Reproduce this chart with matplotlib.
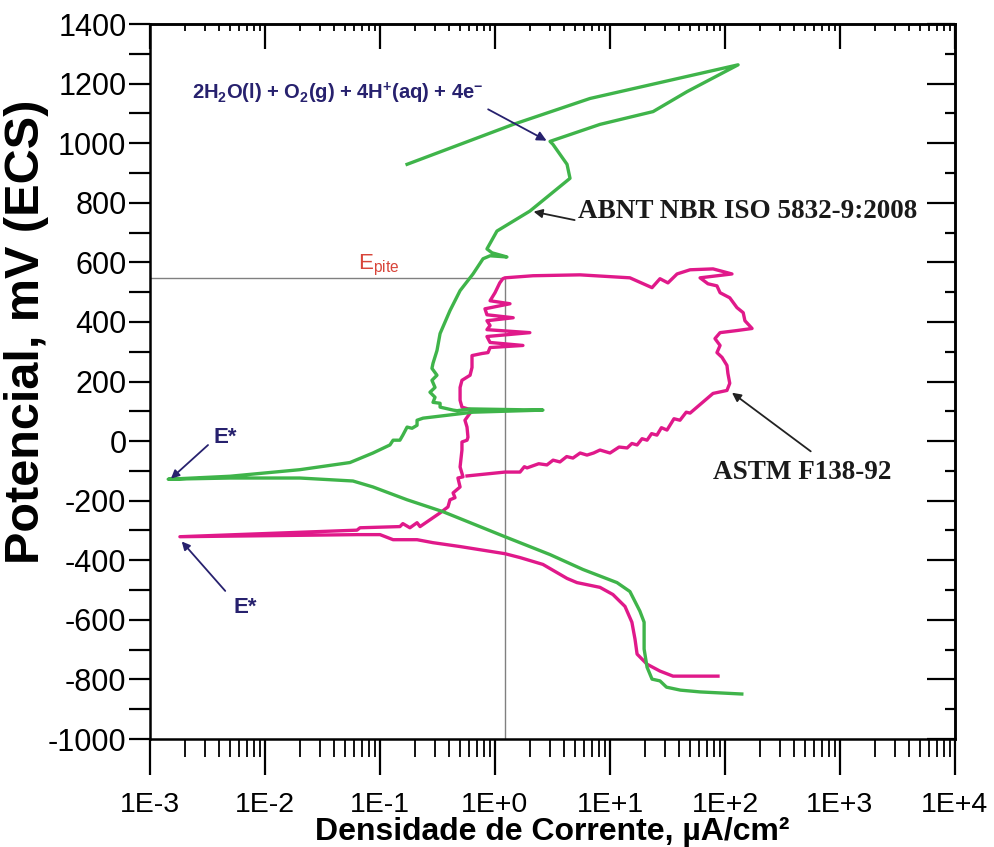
import math
import matplotlib
matplotlib.use("Agg")
import matplotlib.pyplot as plt
from matplotlib.ticker import LogLocator, MultipleLocator, FuncFormatter, NullFormatter

plt.rcParams['font.family'] = ['Liberation Sans', 'DejaVu Sans']
plt.rcParams['axes.unicode_minus'] = False
plt.rcParams['mathtext.fontset'] = 'custom'
plt.rcParams['mathtext.rm'] = 'Liberation Sans'
plt.rcParams['mathtext.bf'] = 'Liberation Sans:bold'

# Cyclic polarisation curve, ABNT NBR ISO 5832-9:2008 (current density uA/cm2, potential mV)
iso_i = [140, 61, 41, 31, 27.2, 23.2, 21.0, 19.8, 19.8, 18.2, 14.9, 11.5, 5.82, 3.01, 1.22,
         0.353, 0.172, 0.0869, 0.0582, 0.0201, 0.00497, 0.00144,
         0.00497, 0.0201, 0.0548, 0.0869, 0.122, 0.130, 0.149, 0.158, 0.172, 0.190, 0.210,
         0.210, 0.237, 0.644, 2.61, 0.607, 0.468, 0.432, 0.333, 0.333, 0.289, 0.301, 0.272,
         0.301, 0.283, 0.313, 0.283, 0.289, 0.313, 0.333, 0.406, 0.497, 0.644, 0.787, 0.906,
         1.27, 0.942, 0.851, 1.04, 2.01, 4.49, 4.23, 3.19, 3.01, 8.18, 23.7, 46.8, 130,
         6.70, 1.44, 0.172]
iso_e = [-849, -842, -836, -826, -805, -799, -759, -698, -608, -571, -505, -475, -431, -381, -321,
         -237, -197, -154, -134, -124, -124, -128,
         -118, -96, -72, -40, -13, 3, 3, 20, 47, 43, 53,
         70, 77, 97, 104, 108, 102, 104, 114, 127, 130, 147, 164,
         180, 204, 221, 244, 261, 304, 361, 438, 505, 561, 612, 622,
         618, 632, 645, 705, 772, 882, 929, 996, 1006, 1063, 1106, 1173, 1263,
         1150, 1063, 929]

# Cyclic polarisation curve, ASTM F138-92
astm_i = [86.9, 35.3, 27.2, 21.0, 17.2, 16.5, 15.5, 13.5, 10.6, 8.18, 5.16, 4.23, 2.61, 1.65, 1.22,
          0.497, 0.289, 0.210, 0.130, 0.100, 0.0631, 0.00182,
          0.0631, 0.0670, 0.149, 0.158, 0.182, 0.210, 0.223, 0.272, 0.333, 0.390, 0.406, 0.449,
          0.432, 0.497, 0.476, 0.527, 0.497, 0.516, 0.516, 0.571, 0.582, 0.571, 0.548, 0.607,
          0.631, 0.516, 0.497, 0.497, 0.516, 0.607, 0.631, 0.631, 0.771, 0.869,
          0.906, 1.75, 0.906, 0.851, 2.01, 0.851, 0.906, 0.851, 1.44, 0.851, 0.818, 1.35, 0.906,
          1.0, 1.10, 1.17, 1.22, 2.14, 5.48, 14.9, 23.2, 27.2, 31.9, 38.3, 49.7, 78.7, 115,
          60.7, 71.1, 85.1, 90.6, 110, 127, 144, 149, 172, 127, 90.6, 81.8, 90.6, 85.1, 94.2,
          104, 106, 110, 104, 78.7, 57.1, 49.7, 46, 40.6, 36, 31.3, 28, 25.6, 23, 21.0, 19,
          17.2, 15.5, 14.1, 12, 10.0, 8.18, 7.2, 6.31, 5.5, 4.76, 4.2, 3.67, 3.2, 2.83, 2.4,
          1.90, 1.8, 1.65, 1.22, 0.571]
astm_e = [-789, -789, -772, -749, -715, -665, -608, -555, -515, -491, -475, -461, -414, -391, -378,
          -354, -341, -331, -331, -314, -314, -321,
          -299, -291, -287, -277, -291, -274, -287, -264, -241, -221, -197, -190,
          -174, -154, -124, -120, -87, -30, -3, 3, 13, 47, 70, 94,
          104, 114, 137, 180, 204, 221, 247, 287, 294, 297,
          314, 321, 331, 351, 364, 374, 388, 404, 414, 424, 444, 461, 471,
          498, 531, 545, 548, 555, 558, 548, 515, 545, 531, 561, 575, 578, 561,
          548, 528, 521, 498, 481, 448, 431, 404, 378, 371, 364, 344, 321, 297, 281,
          254, 227, 194, 170, 160, 114, 94, 97, 70, 75, 37, 45, 20, 25, 3, 8,
          -13, -8, -23, -20, -40, -30, -40, -47, -40, -57, -52, -70, -64, -80, -76,
          -90, -86, -104, -104, -117]

# Pitting potential marker
i_pite = 1.22
e_pite = 548

x_ticks = [1e-3, 1e-2, 1e-1, 1e0, 1e1, 1e2, 1e3, 1e4]
y_ticks = list(range(-1000, 1401, 200))

GREEN = '#3fb44a'
MAGENTA = '#e0198a'
NAVY = '#27216e'

fig = plt.figure(figsize=(9.95, 8.47), dpi=100)
ax = fig.add_axes([150 / 995, 1 - 739 / 847, 805 / 995, 715 / 847])
ax.set_xscale('log')
ax.set_xlim(1e-3, 1e4)
ax.set_ylim(-1000, 1400)

# reference lines for the pitting potential
ax.plot([i_pite, i_pite], [-1000, e_pite], color='#808080', lw=1.0, zorder=1)
ax.plot([1e-3, i_pite], [e_pite, e_pite], color='#808080', lw=1.0, zorder=1)

ax.plot(iso_i, iso_e, color=GREEN, lw=2.4, solid_joinstyle='round', zorder=3)
ax.plot(astm_i, astm_e, color=MAGENTA, lw=2.4, solid_joinstyle='round', zorder=2)

# axes styling
for s in ax.spines.values():
    s.set_linewidth(1.8)
ax.set_xticks(x_ticks)
ax.xaxis.set_minor_locator(LogLocator(base=10, subs=range(2, 10), numticks=20))
ax.xaxis.set_major_formatter(FuncFormatter(lambda v, p: '1E%+d' % round(math.log10(v))))
ax.xaxis.set_minor_formatter(NullFormatter())
ax.set_yticks(y_ticks)
ax.yaxis.set_minor_locator(MultipleLocator(100))
ax.tick_params(axis='x', which='major', direction='out', length=26, width=1.6, labelsize=20.5, pad=12)
ax.tick_params(axis='x', which='minor', direction='out', length=13, width=1.3)
ax.tick_params(axis='y', which='major', direction='out', length=15, width=1.6, labelsize=22, pad=2)
ax.tick_params(axis='y', which='minor', direction='out', length=15, width=1.6)

top = ax.secondary_xaxis('top')
top.xaxis.set_major_locator(LogLocator(base=10, numticks=20))
top.xaxis.set_minor_locator(LogLocator(base=10, subs=range(2, 10), numticks=20))
top.tick_params(which='major', direction='in', length=18, width=1.6, labeltop=False)
top.tick_params(which='minor', direction='in', length=5, width=1.3)
top.xaxis.set_major_formatter(NullFormatter())
top.xaxis.set_minor_formatter(NullFormatter())
top.spines['top'].set_linewidth(1.8)

right = ax.secondary_yaxis('right')
right.yaxis.set_major_locator(MultipleLocator(200))
right.yaxis.set_minor_locator(MultipleLocator(100))
right.tick_params(which='major', direction='in', length=20, width=1.6, labelright=False)
right.tick_params(which='minor', direction='in', length=7, width=1.6)
right.spines['right'].set_linewidth(1.8)

# annotations
ax.annotate('', xy=(2.95, 1004), xytext=(0.83, 1118),
            arrowprops=dict(arrowstyle='-|>', color=NAVY, lw=1.3, mutation_scale=14))
ax.text(0.00232, 1168, r'2H$_\mathbf{2}$O(l) + O$_\mathbf{2}$(g) + 4H$^\mathbf{+}$(aq) + 4e$^\mathbf{-}$',
        color=NAVY, fontsize=14.5, fontweight='bold', ha='left', va='center')

ax.annotate('', xy=(2.05, 772), xytext=(5.2, 740),
            arrowprops=dict(arrowstyle='-|>', color='#222222', lw=1.3, mutation_scale=13))
ax.text(5.25, 769, 'ABNT NBR ISO 5832-9:2008', family=['Liberation Serif', 'DejaVu Serif'],
        fontsize=19.5, fontweight='bold', color='#1a1a1a', ha='left', va='center')

ax.annotate('', xy=(110, 168), xytext=(582, -40),
            arrowprops=dict(arrowstyle='-|>', color='#222222', lw=1.3, mutation_scale=13))
ax.text(468, -104, 'ASTM F138-92', family=['Liberation Serif', 'DejaVu Serif'],
        fontsize=19.5, fontweight='bold', color='#1a1a1a', ha='center', va='center')

ax.annotate('', xy=(0.00146, -132), xytext=(0.00333, -7),
            arrowprops=dict(arrowstyle='-|>', color=NAVY, lw=1.3, mutation_scale=12))
ax.text(0.00449, 13, 'E*', color=NAVY, fontsize=16, fontweight='bold', ha='center', va='center')
ax.annotate('', xy=(0.00182, -330), xytext=(0.00468, -510),
            arrowprops=dict(arrowstyle='-|>', color=NAVY, lw=1.3, mutation_scale=12))
ax.text(0.0067, -557, 'E*', color=NAVY, fontsize=16, fontweight='bold', ha='center', va='center')

ax.text(0.0644, 575, r'E$_\mathregular{pite}$', color='#d8453a', fontsize=16, ha='left', va='baseline')

fig.text(27 / 995, 1 - 332 / 847, 'Potencial, mV (ECS)', rotation=90, fontsize=35,
         fontweight='bold', ha='center', va='center')
fig.text(552 / 995, 1 - 832 / 847, 'Densidade de Corrente, µA/cm²', fontsize=23,
         fontweight='bold', ha='center', va='center')

fig.savefig('out.png', dpi=100)
